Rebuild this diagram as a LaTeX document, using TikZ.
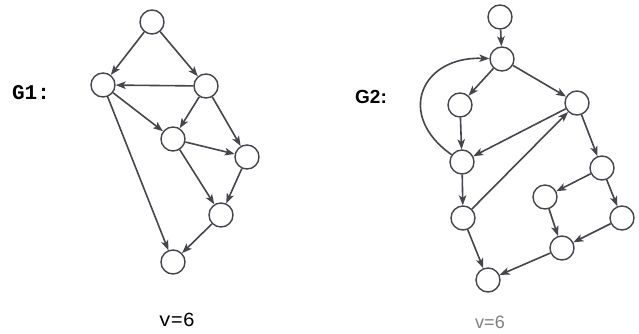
\documentclass[tikz,border=0pt]{standalone}
\usepackage{fontspec}
\setmainfont{Liberation Sans}
\newfontfamily\courfont{Liberation Mono}
\usetikzlibrary{arrows.meta}
\definecolor{edgegray}{HTML}{45454C}
\begin{document}
\begin{tikzpicture}[x=1pt,y=-1pt,
    vert/.style={circle,draw=edgegray,line width=1.4pt,minimum size=24pt,inner sep=0pt,fill=white},
    arc/.style={-{Stealth[length=10pt,width=7.5pt,inset=2.5pt]},draw=edgegray,line width=1.6pt}]
    \useasboundingbox (0,0) rectangle (639,334);
    % G1
    \node[font=\courfont\bfseries\fontsize{21}{21}\selectfont] (g1lab) at (31,93) {G1:};
    \node[vert] (a1) at (152,22) {};
    \node[vert] (a2) at (103,85) {};
    \node[vert] (a3) at (206,86) {};
    \node[vert] (a4) at (173,139) {};
    \node[vert] (a5) at (247,157) {};
    \node[vert] (a6) at (221,215) {};
    \node[vert] (a7) at (173,262) {};
    \draw[arc] (a1) -- (a2);
    \draw[arc] (a1) -- (a3);
    \draw[arc] (a3) -- (a2);
    \draw[arc] (a2) -- (a4);
    \draw[arc] (a3) -- (a4);
    \draw[arc] (a3) -- (a5);
    \draw[arc] (a4) -- (a5);
    \draw[arc] (a4) -- (a6);
    \draw[arc] (a5) -- (a6);
    \draw[arc] (a2) -- (a7);
    \draw[arc] (a6) -- (a7);
    \node[font=\courfont\fontsize{20}{20}\selectfont] (v1lab) at (177,320) {v=6};
    % G2
    \node[font=\bfseries\fontsize{19}{19}\selectfont] (g2lab) at (371,97) {G2:};
    \node[vert] (b0) at (500,17) {};
    \node[vert] (b1) at (502,59) {};
    \node[vert] (b2) at (460,105) {};
    \node[vert] (b3) at (577,103) {};
    \node[vert] (b4) at (462,162) {};
    \node[vert] (b5) at (602,168) {};
    \node[vert] (b6) at (545,197) {};
    \node[vert] (b7) at (622,218) {};
    \node[vert] (b8) at (463,218) {};
    \node[vert] (b9) at (562,248) {};
    \node[vert] (b10) at (488,280) {};
    \draw[arc] (b0) -- (b1);
    \draw[arc] (b1) -- (b2);
    \draw[arc] (b1) -- (b3);
    \draw[arc] (b2) -- (b4);
    \draw[arc] (b3) -- (b4);
    \draw[arc] (b4) to[out=145,in=178,looseness=1.7] (b1);
    \draw[arc] (b4) -- (b8);
    \draw[arc] (b8) -- (b3);
    \draw[arc] (b3) -- (b5);
    \draw[arc] (b5) -- (b6);
    \draw[arc] (b5) -- (b7);
    \draw[arc] (b6) -- (b9);
    \draw[arc] (b7) -- (b9);
    \draw[arc] (b8) -- (b10);
    \draw[arc] (b9) -- (b10);
    \node[font=\fontsize{18}{18}\selectfont,text=gray] (v2lab) at (490,322) {v=6};
\end{tikzpicture}
\end{document}
